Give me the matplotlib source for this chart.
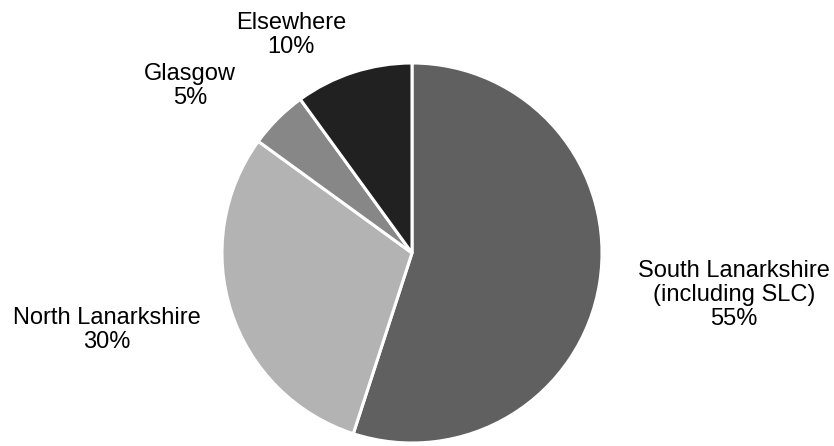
import matplotlib
matplotlib.use("Agg")
import matplotlib.pyplot as plt

# --- Data ---
labels = ["South Lanarkshire\n(including SLC)", "North Lanarkshire", "Glasgow", "Elsewhere"]
shares = [55, 30, 5, 10]
colors = ["#606060", "#b3b3b3", "#878787", "#212121"]
# label centres (in pie-radius units, relative to pie centre)
label_pos = [(1.695, -0.221), (-1.605, -0.405), (-1.168, 0.879), (-0.637, 1.147)]

plt.rcParams['font.family'] = ['Liberation Sans', 'DejaVu Sans']

W, H = 834, 446
cx, cy, r = 412, 253, 190  # pie centre / radius in pixels

fig = plt.figure(figsize=(W / 100, H / 100), dpi=100)
ax = fig.add_axes([0, 0, 1, 1])

ax.pie(shares, colors=colors, startangle=90, counterclock=False, radius=1,
       wedgeprops=dict(edgecolor="white", linewidth=2.2))

for lab, val, (x, y) in zip(labels, shares, label_pos):
    ax.text(x, y, f"{lab}\n{val}%", ha="center", va="center",
            fontsize=17, color="black", linespacing=1.1)

ax.set_xlim(-cx / r, (W - cx) / r)
ax.set_ylim(-(H - cy) / r, cy / r)
ax.set_aspect("auto")
ax.axis("off")

fig.savefig("out.png", dpi=100)
